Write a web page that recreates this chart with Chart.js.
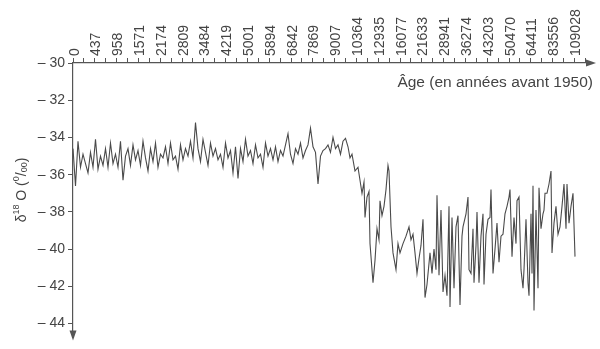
<!DOCTYPE html>
<html><head><meta charset="utf-8">
<script src="https://cdn.jsdelivr.net/npm/chart.js@4"></script>
<style>html,body{margin:0;padding:0;background:#fff}canvas{display:block}</style>
</head><body>
<canvas id="c" width="600" height="349"></canvas>
<script>
// Age labels (years before 1950) placed at evenly spaced depth positions
const ageLabels = ['0','437','958','1571','2174','2809','3484','4219','5001','5894','6842','7869','9007','10364','12935','16077','21633','28941','36274','43203','50470','64411','83556','109028'];
const tickDepths = [0,21.8,43.6,65.4,87.2,109,130.8,152.6,174.4,196.2,218,239.8,261.6,283.4,305.2,327,348.8,370.6,392.4,414.2,436,457.8,479.6,501.4];
const yTicks = [-30,-32,-34,-36,-38,-40,-42,-44];

// Sample positions (depth index) and δ18O values (‰)
const depth = [
0,2.5,5,7.5,10,12.5,15,17.5,20,22.5,
25,27.5,30,32.5,35,37.5,40,42.5,45,47.5,
50,52.5,55,57.5,60,62.5,65,67.5,70,72.5,
75,77.5,80,82.5,85,87.5,90,92.5,95,97.5,
100,102.5,105,107.5,110,112.5,115,117.5,120,122.5,
125,127.5,130,132.5,135,137.5,140,142.5,145,147.5,
150,152.5,155,157.5,160,162.5,165,167.5,170,172.5,
175,177.5,180,182.5,185,187.5,190,192.5,195,197.5,
200,202.5,205,207.5,210,212.5,215,217.5,220,222.5,
225,227.5,230,232.5,235,237.5,240,242.5,245,247.5,
250,252.5,255,257.5,260,262.5,265,267.5,270,272.5,
275,277,279,282,285,287,289,291,292,294,
296,297,300,302,304,306,307,309,311,313,
315,316,318,320,323,325,327,330,333,336,
338,340,342,344,346,348,350,352,354,357,
359,361,363,364,366,368,370,372,374,376,
377,379,381,383,385,387,389,390,393,395,
396,398,400,401,403,404,406,408,410,411,
413,415,417,418,420,422,424,426,428,430,
432,434,436,437,439,441,443,444,446,448,
450,451,453,455,456,458,459,460,461,463,
465,466,468,470,471,472,474,476,478,479,
481,483,485,487,489,491,493,494,496,498,
500,502
];
const d18O = [
-34.6,-36.6,-34.2,-35.6,-34.9,-35.4,-35.9,-34.8,-35.6,-34.1,
-35.7,-35.0,-35.5,-34.6,-35.6,-34.3,-35.4,-34.9,-35.6,-34.2,
-36.3,-35.0,-34.6,-35.5,-34.4,-35.2,-34.7,-35.5,-34.2,-35.1,
-35.8,-34.6,-35.3,-34.3,-35.6,-34.9,-35.1,-34.5,-35.4,-34.3,
-35.2,-35.0,-35.7,-34.4,-35.2,-34.6,-35.0,-34.2,-35.1,-33.2,
-34.6,-35.3,-34.1,-34.8,-35.5,-34.3,-35.0,-34.6,-35.2,-34.9,
-35.6,-34.3,-35.1,-34.7,-35.9,-34.5,-36.2,-34.6,-35.3,-34.1,
-35.0,-34.7,-35.4,-34.4,-35.1,-34.9,-35.6,-34.3,-35.0,-34.6,
-35.2,-34.5,-35.3,-34.7,-35.0,-34.4,-33.8,-34.9,-35.4,-34.6,
-34.9,-34.3,-35.1,-34.7,-34.4,-33.5,-34.5,-34.8,-36.5,-35.0,
-34.7,-34.6,-34.4,-34.8,-34.0,-34.6,-34.4,-34.9,-34.2,-34.05,
-34.5,-35.1,-34.9,-35.8,-35.6,-36.3,-37.0,-36.4,-38.3,-37.2,
-36.9,-39.7,-41.8,-40.6,-38.9,-39.5,-37.4,-38.2,-37.7,-36.8,
-35.5,-35.8,-38.8,-40.2,-41.1,-39.7,-40.2,-39.7,-39.3,-38.8,
-39.5,-39.2,-40.2,-41.3,-40.5,-39.8,-38.4,-42.6,-41.9,-40.2,
-41.3,-40.0,-41.1,-37.1,-41.4,-37.9,-42.3,-41.4,-42.5,-37.7,
-43.1,-38.3,-42.1,-38.8,-38.2,-43.0,-39.3,-38.8,-38.1,-37.2,
-41.1,-41.3,-38.9,-41.8,-39.8,-38.0,-41.8,-39.3,-38.1,-41.9,
-39.2,-38.4,-38.3,-36.8,-41.3,-40.0,-38.6,-40.7,-39.3,-39.2,
-38.1,-37.7,-37.2,-36.8,-40.4,-38.3,-39.7,-37.4,-37.2,-41.1,
-42.1,-41.1,-38.4,-41.8,-42.5,-38.1,-41.3,-36.6,-43.3,-37.9,
-42.1,-36.7,-38.9,-38.1,-37.9,-37.0,-37.0,-36.5,-35.8,-40.2,
-38.6,-37.7,-39.2,-38.8,-37.7,-36.5,-38.9,-36.5,-38.6,-37.7,
-37.0,-40.4
];

const AXIS = '#555';
const TXT = '#444';
const FONT = "'Liberation Sans', Arial, sans-serif";

const decorations = {
  id: 'decorations',
  afterDraw(chart) {
    const ctx = chart.ctx, a = chart.chartArea;
    ctx.save();
    ctx.fillStyle = AXIS;
    // x axis arrow (right)
    ctx.beginPath();
    ctx.moveTo(a.right + 6, a.top);
    ctx.lineTo(a.right - 4, a.top - 3.5);
    ctx.lineTo(a.right - 4, a.top + 3.5);
    ctx.closePath(); ctx.fill();
    // y axis arrow (down)
    ctx.beginPath();
    ctx.moveTo(a.left, a.bottom + 3);
    ctx.lineTo(a.left - 3.5, a.bottom - 7);
    ctx.lineTo(a.left + 3.5, a.bottom - 7);
    ctx.closePath(); ctx.fill();
    // x axis title
    ctx.fillStyle = TXT;
    ctx.font = '15.5px ' + FONT;
    ctx.textAlign = 'right';
    ctx.textBaseline = 'middle';
    ctx.fillText('Âge (en années avant 1950)', a.right + 3, a.top + 20);
    // y axis title with super/subscripts
    const parts = [
      {t:'δ', s:14, dy:0},
      {t:'18', s:9, dy:-5},
      {t:' O (', s:14, dy:0},
      {t:'0', s:9, dy:-5},
      {t:'/', s:14, dy:0},
      {t:'00', s:9, dy:3},
      {t:')', s:14, dy:0}
    ];
    let total = 0;
    parts.forEach(p => { ctx.font = p.s + 'px ' + FONT; p.w = ctx.measureText(p.t).width; total += p.w; });
    ctx.translate(22, 190);
    ctx.rotate(-Math.PI / 2);
    ctx.textAlign = 'left';
    ctx.textBaseline = 'middle';
    let xx = -total / 2;
    parts.forEach(p => { ctx.font = p.s + 'px ' + FONT; ctx.fillText(p.t, xx, p.dy); xx += p.w; });
    ctx.restore();
  }
};

new Chart(document.getElementById('c'), {
  type: 'line',
  data: {
    datasets: [{
      data: depth.map((d, i) => ({x: d, y: d18O[i]})),
      borderColor: '#4a4a4a',
      borderWidth: 1.1,
      pointRadius: 0,
      tension: 0,
      fill: false
    }]
  },
  options: {
    responsive: false,
    animation: false,
    events: [],
    layout: {padding: {left: 0, right: 10, top: 0, bottom: 6}},
    plugins: {legend: {display: false}, tooltip: {enabled: false}},
    scales: {
      x: {
        type: 'linear', position: 'top', min: 0, max: 517,
        afterBuildTicks: s => {
          const vals = [];
          tickDepths.forEach((v, i) => {
            vals.push(v);
            const next = i < tickDepths.length - 1 ? tickDepths[i + 1] : v + (v - tickDepths[i - 1]);
            vals.push((v + next) / 2);
          });
          s.ticks = vals.map(v => ({value: v}));
        },
        afterFit: s => { s.height = 63; },
        grid: {drawOnChartArea: false, drawTicks: true, tickLength: 5, color: AXIS, lineWidth: 1},
        border: {color: AXIS, width: 1.2},
        ticks: {
          autoSkip: false, minRotation: 90, maxRotation: 90, padding: 2, labelOffset: 18.5,
          color: TXT, font: {family: FONT, size: 14},
          callback: v => { const k = tickDepths.indexOf(v); return k >= 0 ? ageLabels[k] : ''; }
        }
      },
      y: {
        type: 'linear', min: -44.75, max: -30,
        afterBuildTicks: s => { s.ticks = yTicks.map(v => ({value: v})); },
        afterFit: s => { s.width = 73; },
        grid: {drawOnChartArea: false, drawTicks: true, tickLength: 5, color: AXIS},
        border: {color: AXIS, width: 1.2},
        ticks: {
          padding: 3, color: TXT, font: {family: FONT, size: 14},
          callback: v => '– ' + Math.abs(v)
        }
      }
    }
  },
  plugins: [decorations]
});
</script>
</body></html>
